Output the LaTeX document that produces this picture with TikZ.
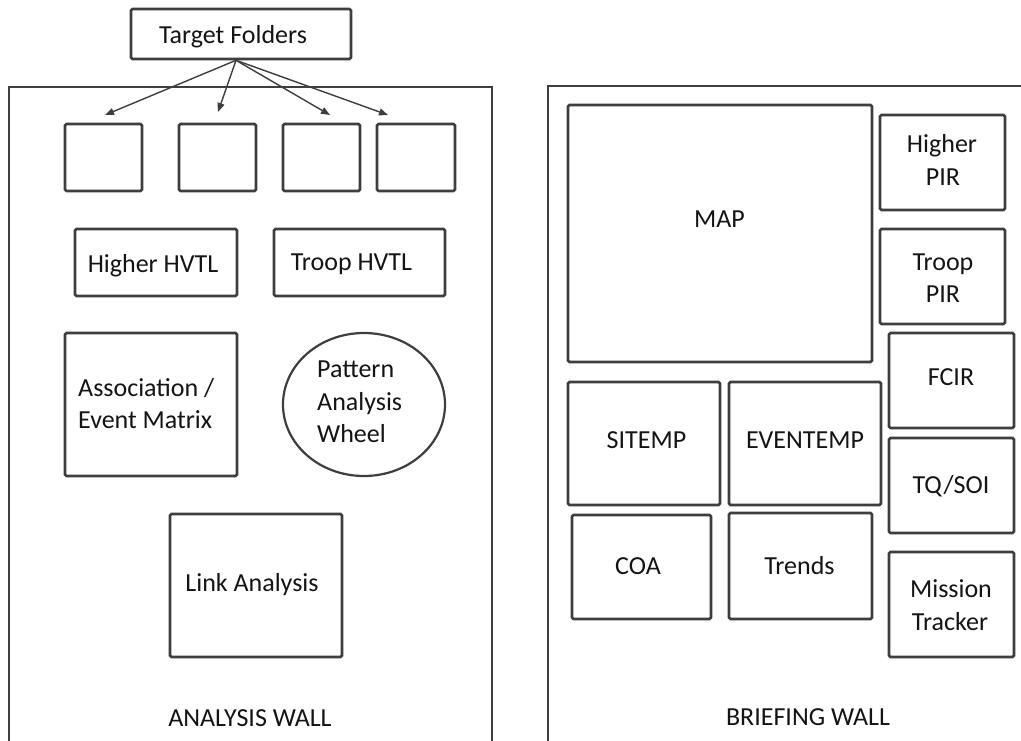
\documentclass[tikz,border=0pt]{standalone}
\usepackage{fontspec}
\setmainfont{Carlito}
\usetikzlibrary{arrows.meta,shapes.geometric}
\definecolor{edge}{RGB}{62,62,62}
\definecolor{ink}{RGB}{20,20,20}
\tikzset{
  wall/.style={draw=edge, line width=2.6pt},
  board/.style={draw=edge, line width=2.6pt, rounded corners=1.5pt, rectangle, inner sep=0pt},
  disc/.style={draw=edge, line width=2.2pt, ellipse, inner sep=0pt},
  lbl/.style={text=ink, inner sep=0pt, anchor=base, font=\fontsize{26}{32}\selectfont},
  feed/.style={draw=edge, line width=1.4pt, -{Triangle[length=9pt,width=7pt]}},
}
\begin{document}
\begin{tikzpicture}[x=1pt,y=-1pt]
\useasboundingbox (0,0) rectangle (1021,740);
\clip (0,0) rectangle (1021,740);
\fill[white] (0,0) rectangle (1021,740);

% the two walls
\draw[wall] (9,760) -- (9,87) -- (492,87) -- (492,760);
\draw[wall] (548,760) -- (548,86) -- (1040,86);

% target folders and the four folder slots
\node[board, minimum width=220pt, minimum height=50pt] (tf) at (241,34) {};
\node[lbl] (tftxt) at (233,43) {Target Folders};
\node[board, minimum width=77pt, minimum height=67pt] (f1) at (103.5,157.5) {};
\node[board, minimum width=77pt, minimum height=67pt] (f2) at (217.5,157.5) {};
\node[board, minimum width=77pt, minimum height=67pt] (f3) at (321.5,157.5) {};
\node[board, minimum width=78pt, minimum height=67pt] (f4) at (416,157.5) {};

\coordinate (fan) at ([xshift=-5pt]tf.south);
\coordinate (t1) at (105,115);
\coordinate (t2) at (218,112);
\coordinate (t3) at (330,115);
\coordinate (t4) at (388,115);
\draw[feed] (fan) -- (t1);
\draw[feed] (fan) -- (t2);
\draw[feed] (fan) -- (t3);
\draw[feed] (fan) -- (t4);

% analysis wall
\node[board, minimum width=162pt, minimum height=67pt] (hhvtl) at (156,262.5) {};
\node[lbl] (hhvtltxt) at (153,272) {Higher HVTL};
\node[board, minimum width=171pt, minimum height=67pt] (thvtl) at (359.5,262.5) {};
\node[lbl] (thvtltxt) at (351.5,270) {Troop HVTL};

\node[board, minimum width=172pt, minimum height=143pt] (assoc) at (151,404.5) {};
\node[lbl, anchor=base west] (assoc1) at (78,396) {Association /};
\node[lbl, anchor=base west] (assoc2) at (78,428) {Event Matrix};

\node[disc, minimum width=162pt, minimum height=143pt] (wheel) at (364,404.5) {};
\node[lbl, anchor=base west] (wheel1) at (317,377) {Pattern};
\node[lbl, anchor=base west] (wheel2) at (317,410) {Analysis};
\node[lbl, anchor=base west] (wheel3) at (317,442) {Wheel};

\node[board, minimum width=172pt, minimum height=143pt] (link) at (256,585.5) {};
\node[lbl] (linktxt) at (252,591) {Link Analysis};

\node[lbl] (awall) at (250,726) {ANALYSIS WALL};

% briefing wall
\node[board, minimum width=304pt, minimum height=257pt] (map) at (720,233.5) {};
\node[lbl] (maptxt) at (719.5,227) {MAP};

\node[board, minimum width=125pt, minimum height=95pt] (hpir) at (942.5,162.5) {};
\node[lbl] (hpir1) at (942,152) {Higher};
\node[lbl] (hpir2) at (943,185) {PIR};

\node[board, minimum width=125pt, minimum height=95pt] (tpir) at (942.5,276.5) {};
\node[lbl] (tpir1) at (943,270) {Troop};
\node[lbl] (tpir2) at (943,302) {PIR};

\node[board, minimum width=125pt, minimum height=95pt] (fcir) at (951.5,380.5) {};
\node[lbl] (fcirtxt) at (951,385) {FCIR};

\node[board, minimum width=152pt, minimum height=123pt] (sitemp) at (644,443.5) {};
\node[lbl] (sitemptxt) at (646.5,448) {SITEMP};
\node[board, minimum width=152pt, minimum height=123pt] (eventemp) at (805,443.5) {};
\node[lbl] (eventemptxt) at (805,448) {EVENTEMP};

\node[board, minimum width=125pt, minimum height=95pt] (tqsoi) at (951.5,485.5) {};
\node[lbl] (tqsoitxt) at (951,493) {TQ/SOI};

\node[board, minimum width=139pt, minimum height=104pt] (coa) at (641.5,567) {};
\node[lbl] (coatxt) at (638,574) {COA};
\node[board, minimum width=143pt, minimum height=106pt] (trends) at (800.5,566) {};
\node[lbl] (trendstxt) at (799.5,574) {Trends};

\node[board, minimum width=125pt, minimum height=105pt] (mission) at (951.5,604.5) {};
\node[lbl] (mission1) at (951,597) {Mission};
\node[lbl] (mission2) at (950,630) {Tracker};

\node[lbl] (bwall) at (808,725) {BRIEFING WALL};
\end{tikzpicture}
\end{document}
